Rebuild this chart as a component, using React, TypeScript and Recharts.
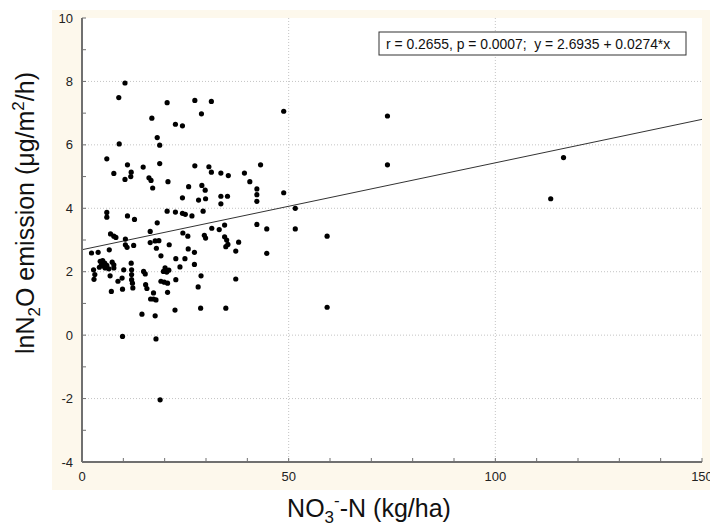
import React from 'react';
import {
  ScatterChart,
  Scatter,
  XAxis,
  YAxis,
  CartesianGrid,
  ReferenceLine,
} from 'recharts';

// NO3--N (kg/ha) and lnN2O emission
const nitrate = [
  10.4, 8.9, 9.0, 6.0, 7.7, 11.0, 11.9, 11.8, 10.4, 14.8, 16.2, 16.7, 17.1, 16.9, 18.2, 18.8, 18.8,
  20.6, 22.6, 24.3, 27.3, 31.3, 28.9, 27.3, 30.7, 31.3, 33.6, 35.4, 39.3, 40.6, 43.2, 48.8, 48.8,
  42.3, 42.3, 42.3, 20.8, 24.3, 25.8, 29.0, 29.8, 28.2, 29.9, 33.6, 33.6, 35.2, 51.6, 73.9, 73.9,
  116.5, 113.4, 20.6, 22.6, 24.3, 25.0, 26.6, 29.3, 6.0, 6.0, 11.0, 12.7, 18.2, 6.9, 7.7, 8.2,
  10.5, 10.5, 10.9, 12.5, 16.5, 16.5, 17.7, 18.6, 18.0, 19.1, 21.1, 24.4, 25.6, 25.7, 27.2, 22.7,
  24.9, 31.4, 29.6, 29.9, 33.2, 34.5, 34.5, 35.0, 35.3, 34.8, 37.9, 37.2, 42.3, 44.7, 44.7, 51.6,
  59.3, 2.3, 3.9, 6.6, 2.8, 3.1, 2.9, 4.4, 5.0, 5.5, 4.7, 5.3, 5.6, 6.0, 6.5, 7.7, 4.2, 7.3, 7.7,
  6.8, 7.1, 8.7, 9.7, 10.1, 9.8, 11.9, 12.0, 12.0, 12.0, 12.2, 12.3, 14.9, 15.3, 15.4, 15.7, 17.3,
  16.6, 17.3, 17.9, 14.5, 17.7, 9.8, 17.9, 18.9, 20.1, 19.7, 20.5, 21.0, 19.1, 19.9, 20.7, 22.7,
  20.7, 22.5, 23.7, 27.2, 28.8, 28.1, 28.7, 34.8, 37.2, 59.3,
];

const lnN2O = [
  7.95, 7.49, 6.03, 5.56, 5.1, 5.37, 5.14, 5.0, 4.91, 5.3, 4.96, 4.88, 4.64, 6.84, 6.23, 5.99, 5.41,
  7.33, 6.65, 6.6, 7.4, 7.37, 6.98, 5.34, 5.31, 5.14, 5.11, 5.03, 5.11, 4.84, 5.37, 7.06, 4.49,
  4.61, 4.43, 4.22, 4.84, 4.33, 4.68, 4.72, 4.57, 4.26, 4.3, 4.38, 4.14, 4.38, 4.0, 6.91, 5.37,
  5.6, 4.3, 3.91, 3.88, 3.84, 3.81, 3.76, 3.91, 3.87, 3.72, 3.76, 3.65, 3.54, 3.19, 3.12, 3.08,
  3.03, 2.85, 2.77, 2.83, 3.27, 2.92, 2.97, 2.98, 2.74, 2.5, 2.85, 3.22, 3.12, 2.72, 2.61, 2.41,
  2.41, 3.37, 3.15, 3.06, 3.33, 3.47, 3.1, 3.0, 2.86, 2.79, 2.93, 2.65, 3.49, 3.35, 2.58, 3.35,
  3.12, 2.59, 2.61, 2.69, 2.06, 1.91, 1.76, 2.33, 2.35, 2.27, 2.22, 2.17, 2.12, 2.2, 2.09, 2.12,
  2.14, 2.3, 2.22, 1.87, 1.38, 1.7, 1.8, 2.06, 1.45, 2.27, 2.06, 1.91, 1.75, 1.64, 1.49, 2.01,
  1.93, 1.59, 1.47, 1.33, 1.14, 1.14, 1.11, 0.66, 0.61, -0.04, -0.12, -2.04, 2.12, 2.01, 1.99,
  2.05, 1.7, 1.67, 1.64, 1.75, 1.35, 0.79, 2.15, 2.23, 1.87, 1.52, 0.85, 0.85, 1.77, 0.88,
];

const xTicks = [0, 10, 20, 30, 40, 50, 60, 70, 80, 90, 100, 110, 120, 130, 140, 150];
const yTicks = [-4, -3, -2, -1, 0, 1, 2, 3, 4, 5, 6, 7, 8, 9, 10];
const xGrid = [50, 100];
const yGrid = [-2, 0, 2, 4, 6, 8];

// regression shown in the box
const intercept = 2.6935;
const slope = 0.0274;
const statsText = 'r = 0.2655, p = 0.0007;  y = 2.6935 + 0.0274*x';

const points = nitrate.map((x, i) => ({ x, y: lnN2O[i] }));

const font = 'Arial, "Liberation Sans", sans-serif';
const frame = '#707070';
const tickStyle = { fontSize: 13, fill: '#222', fontFamily: font };

const Dot = (props: any) => <circle cx={props.cx} cy={props.cy} r={2.6} fill="#000" />;

export default function App() {
  return (
    <div style={{ position: 'absolute', left: 0, top: 0, width: 710, height: 527, background: '#fff' }}>
      <div
        style={{ position: 'absolute', left: 52, top: 10, width: 658, height: 480, background: '#fdf8ec' }}
      />
      <div style={{ position: 'absolute', left: 0, top: 0 }}>
        <ScatterChart width={710} height={527} margin={{ top: 18, right: 8, bottom: 0, left: 0 }}>
          <CartesianGrid
            fill="#fff"
            stroke="#c4c4c4"
            strokeDasharray="1 2"
            verticalValues={xGrid}
            horizontalValues={yGrid}
          />
          <XAxis
            type="number"
            dataKey="x"
            domain={[0, 150]}
            ticks={xTicks}
            interval={0}
            allowDataOverflow
            height={65}
            tickSize={-4}
            tickMargin={14}
            tick={tickStyle}
            tickFormatter={(v: number) => (v % 50 === 0 ? String(v) : '')}
            axisLine={{ stroke: frame, strokeWidth: 2 }}
            tickLine={{ stroke: frame }}
          />
          <XAxis
            xAxisId="top"
            orientation="top"
            type="number"
            dataKey="x"
            domain={[0, 150]}
            ticks={xTicks}
            interval={0}
            height={0}
            tickSize={-4}
            tick={false}
            axisLine={{ stroke: frame, strokeWidth: 1.5 }}
            tickLine={{ stroke: frame }}
          />
          <YAxis
            type="number"
            dataKey="y"
            domain={[-4, 10]}
            ticks={yTicks}
            interval={0}
            allowDataOverflow
            width={82}
            tickSize={-4}
            tickMargin={13}
            tick={tickStyle}
            tickFormatter={(v: number) => (v % 2 === 0 ? String(v) : '')}
            axisLine={{ stroke: frame, strokeWidth: 2 }}
            tickLine={{ stroke: frame }}
          />
          <YAxis
            yAxisId="right"
            orientation="right"
            type="number"
            dataKey="y"
            domain={[-4, 10]}
            ticks={yTicks}
            interval={0}
            width={0}
            tickSize={-4}
            tick={false}
            axisLine={{ stroke: frame, strokeWidth: 1.5 }}
            tickLine={{ stroke: frame }}
          />
          <ReferenceLine
            segment={[
              { x: 0, y: intercept },
              { x: 150, y: intercept + slope * 150 },
            ]}
            stroke="#333"
            strokeWidth={1}
          />
          <Scatter data={points} fill="#000" shape={Dot} isAnimationActive={false} />
          <text
            x={34}
            y={213}
            transform="rotate(-90, 34, 213)"
            textAnchor="middle"
            fontSize={25}
            fontFamily={font}
            fill="#111"
          >
            lnN
            <tspan fontSize={17} dy={6}>2</tspan>
            <tspan dy={-6}>O emission (μg/m</tspan>
            <tspan fontSize={17} dy={-10}>2</tspan>
            <tspan dy={10}>/h)</tspan>
          </text>
          <text x={369} y={517} textAnchor="middle" fontSize={25} fontFamily={font} fill="#111">
            NO
            <tspan fontSize={17} dy={6}>3</tspan>
            <tspan fontSize={17} dy={-17}>-</tspan>
            <tspan dy={11}>-N (kg/ha)</tspan>
          </text>
          <rect x={379} y={32} width={307} height={23} fill="#fff" stroke="#333" strokeWidth={1} />
          <text
            x={386}
            y={48.5}
            fontSize={13.9}
            fontFamily={font}
            fill="#111"
            style={{ whiteSpace: 'pre' }}
          >
            {statsText}
          </text>
        </ScatterChart>
      </div>
    </div>
  );
}
